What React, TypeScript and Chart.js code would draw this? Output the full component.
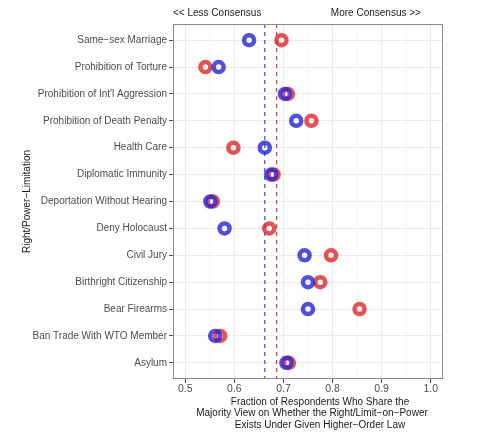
import React, { useEffect, useRef } from "react";
import { Chart, registerables } from "chart.js";
Chart.register(...registerables);

const categories = [
  "Same−sex Marriage",
  "Prohibition of Torture",
  "Prohibition of Int'l Aggression",
  "Prohibition of Death Penalty",
  "Health Care",
  "Diplomatic Immunity",
  "Deportation Without Hearing",
  "Deny Holocaust",
  "Civil Jury",
  "Birthright Citizenship",
  "Bear Firearms",
  "Ban Trade With WTO Member",
  "Asylum",
];
const blueValues = [0.630, 0.568, 0.703, 0.726, 0.662, 0.675, 0.551, 0.580, 0.743, 0.750, 0.750, 0.561, 0.706];
const redValues = [0.696, 0.541, 0.709, 0.757, 0.598, 0.680, 0.556, 0.671, 0.797, 0.775, 0.855, 0.571, 0.711];
const blueMean = 0.662;
const redMean = 0.686;
const xTicks = [0.5, 0.55, 0.6, 0.65, 0.7, 0.75, 0.8, 0.85, 0.9, 0.95, 1.0];
const xMin = 0.475;
const xMax = 1.025;
const topLeftText = "<< Less Consensus";
const topRightText = "More Consensus >>";
const topRightAnchor = 0.98;
const xTitleLines = [
  "Fraction of Respondents Who Share the",
  "Majority View on Whether the Right/Limit−on−Power",
  "Exists Under Given Higher−Order Law",
];
const yTitle = "Right/Power−Limitation";

const FONT = "'Liberation Sans', Arial, Helvetica, sans-serif";
const RED = "rgba(230, 35, 35, 0.8)";
const BLUE = "rgba(35, 35, 225, 0.8)";

const isMajor = (v: number) => Math.abs(v * 10 - Math.round(v * 10)) < 1e-6;

const decorPlugin = {
  id: "decor",
  afterDraw(chart: any) {
    const { ctx, chartArea, scales } = chart;
    ctx.save();
    ctx.strokeStyle = "#8a8a8a";
    ctx.lineWidth = 1;
    ctx.strokeRect(chartArea.left + 0.5, chartArea.top + 0.5, chartArea.right - chartArea.left - 1, chartArea.bottom - chartArea.top - 1);
    ctx.fillStyle = "#1a1a1a";
    ctx.font = `10px ${FONT}`;
    ctx.textBaseline = "middle";
    ctx.textAlign = "left";
    ctx.fillText(topLeftText, scales.x.getPixelForValue(xMin), 13);
    ctx.textAlign = "right";
    ctx.fillText(topRightText, scales.x.getPixelForValue(topRightAnchor), 13);
    ctx.textAlign = "center";
    const cx = (chartArea.left + chartArea.right) / 2;
    const offsets = [12, 4, 12];
    const ys = [402, 413.5, 425];
    xTitleLines.forEach((t, i) => ctx.fillText(t, cx + offsets[i], ys[i]));
    ctx.restore();
  },
};

export default function App() {
  const ref = useRef<HTMLCanvasElement>(null);
  useEffect(() => {
    document.body.style.margin = "0";
    const chart = new Chart(ref.current as HTMLCanvasElement, {
      type: "scatter",
      data: {
        datasets: [
          {
            label: "blue",
            data: blueValues.map((v, i) => ({ x: v, y: i })),
            borderColor: BLUE,
            backgroundColor: "rgba(0,0,0,0)",
            pointRadius: 5,
            pointBorderWidth: 4.5,
            order: 0,
          },
          {
            label: "red",
            data: redValues.map((v, i) => ({ x: v, y: i })),
            borderColor: RED,
            backgroundColor: "rgba(0,0,0,0)",
            pointRadius: 5,
            pointBorderWidth: 4.5,
            order: 1,
          },
          {
            label: "blueMean",
            data: [{ x: blueMean, y: -0.6 }, { x: blueMean, y: 12.6 }],
            showLine: true,
            borderColor: "rgba(60, 60, 230, 0.95)",
            borderWidth: 1.2,
            borderDash: [4, 4],
            pointRadius: 0,
            order: 2,
          },
          {
            label: "redMean",
            data: [{ x: redMean, y: -0.6 }, { x: redMean, y: 12.6 }],
            showLine: true,
            borderColor: "rgba(230, 50, 50, 0.95)",
            borderWidth: 1.2,
            borderDash: [4, 4],
            pointRadius: 0,
            order: 3,
          },
        ],
      },
      options: {
        animation: false,
        responsive: false,
        maintainAspectRatio: false,
        layout: { padding: { top: 24, right: 37, left: 0, bottom: 0 } },
        plugins: { legend: { display: false }, tooltip: { enabled: false } },
        scales: {
          x: {
            type: "linear",
            min: xMin,
            max: xMax,
            afterBuildTicks: (axis: any) => {
              axis.ticks = xTicks.map((v) => ({ value: v }));
            },
            afterFit: (axis: any) => {
              axis.height = 55;
            },
            ticks: {
              autoSkip: false,
              maxRotation: 0,
              padding: 0,
              color: "#4d4d4d",
              font: { family: FONT, size: 10.5 },
              callback: (v: any) => (isMajor(Number(v)) ? Number(v).toFixed(1) : ""),
            },
            grid: {
              color: (c: any) => (c.tick && isMajor(c.tick.value) ? "#ebebeb" : "#f2f2f2"),
              lineWidth: (c: any) => (c.tick && isMajor(c.tick.value) ? 1 : 0.6),
              tickColor: (c: any) => (c.tick && isMajor(c.tick.value) ? "#555555" : "rgba(0,0,0,0)"),
              tickLength: 4,
              drawTicks: true,
            },
            border: { display: false },
          },
          y: {
            type: "linear",
            min: -0.6,
            max: 12.6,
            reverse: true,
            afterBuildTicks: (axis: any) => {
              axis.ticks = categories.map((_, i) => ({ value: i }));
            },
            afterFit: (axis: any) => {
              axis.width = 173;
            },
            ticks: {
              autoSkip: false,
              padding: 2,
              color: "#4d4d4d",
              font: { family: FONT, size: 10 },
              callback: (v: any) => categories[Number(v)] ?? "",
            },
            grid: {
              color: "#ebebeb",
              lineWidth: 1,
              tickColor: "#555555",
              tickLength: 4,
            },
            border: { display: false },
            title: {
              display: true,
              text: yTitle,
              color: "#1a1a1a",
              font: { family: FONT, size: 10 },
              padding: { top: 21, bottom: 0 },
            },
          },
        },
      },
      plugins: [decorPlugin],
    });
    return () => chart.destroy();
  }, []);
  return (
    <div style={{ position: "fixed", left: 0, top: 0, width: 480, height: 434, background: "#fff" }}>
      <canvas ref={ref} width={480} height={434} />
    </div>
  );
}
